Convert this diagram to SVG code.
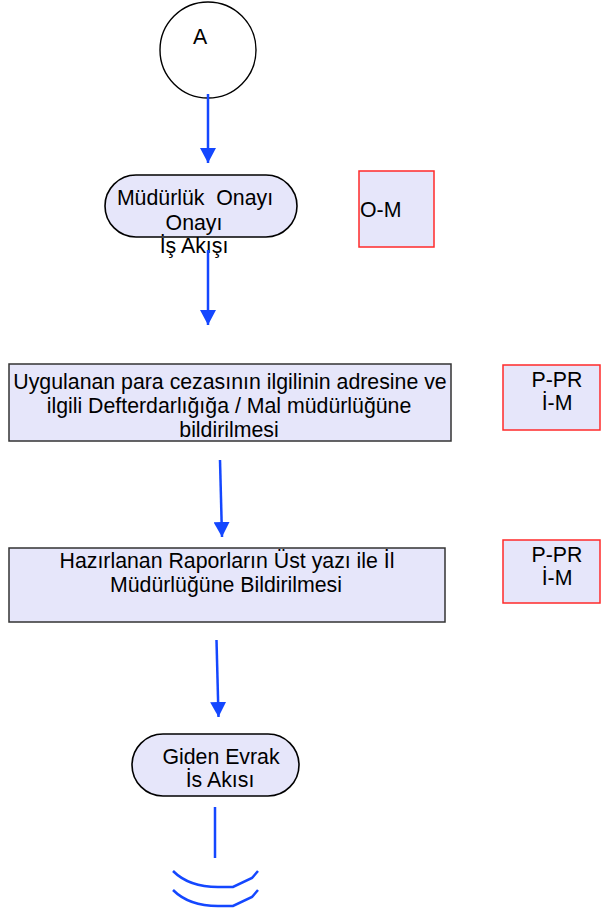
<svg xmlns="http://www.w3.org/2000/svg" width="601" height="910" viewBox="0 0 601 910">
<style>
text{font-family:"Liberation Sans",Arial,sans-serif;font-size:21.3px;fill:#000}
.c{text-anchor:middle}
.term{fill:#e6e6fa;stroke:#000;stroke-width:1.6}
.proc{fill:#e6e6fa;stroke:#333;stroke-width:1.5}
.tag{fill:#e6e6fa;stroke:#ff2a2a;stroke-width:1.5}
.conn{stroke:#1447ff;stroke-width:2.5;fill:none}
</style>
<defs>
<marker id="ah" markerWidth="16" markerHeight="16" refX="15" refY="8" orient="auto" markerUnits="userSpaceOnUse">
<path d="M0,0 L15,8 L0,16 Z" fill="#1447ff"/>
</marker>
</defs>
<g id="start">
<circle cx="208" cy="50" r="48" fill="#fff" stroke="#000" stroke-width="1.4"/>
<text x="200" y="44" class="c">A</text>
</g>
<g id="onay">
<rect class="term" x="105" y="175" width="192" height="62" rx="31"/>
<text x="195" y="205" class="c" xml:space="preserve">Müdürlük  Onayı</text>
<text x="194" y="230" class="c">Onayı</text>
<text x="194" y="253" class="c">İş Akışı</text>
</g>
<g id="tag-om">
<rect class="tag" x="359" y="171" width="75" height="76"/>
<text x="360" y="217">O-M</text>
</g>
<g id="bildirim">
<rect class="proc" x="9" y="364" width="442" height="77"/>
<text x="230" y="389" class="c">Uygulanan para cezasının ilgilinin adresine ve</text>
<text x="229" y="413" class="c">ilgili Defterdarlığığa / Mal müdürlüğüne</text>
<text x="229" y="437" class="c">bildirilmesi</text>
</g>
<g id="tag-1">
<rect class="tag" x="503" y="365" width="97" height="65"/>
<text x="557" y="387" class="c">P-PR</text>
<text x="557" y="410" class="c">İ-M</text>
</g>
<g id="rapor">
<rect class="proc" x="9" y="548" width="436" height="74"/>
<text x="227" y="568" class="c">Hazırlanan Raporların Üst yazı ile İl</text>
<text x="226" y="592" class="c">Müdürlüğüne Bildirilmesi</text>
</g>
<g id="tag-2">
<rect class="tag" x="503" y="540" width="97" height="63"/>
<text x="557" y="562" class="c">P-PR</text>
<text x="557" y="585" class="c">İ-M</text>
</g>
<g id="giden">
<rect class="term" x="132" y="734" width="167" height="62" rx="31"/>
<text x="221" y="764" class="c">Giden Evrak</text>
<text x="220" y="787" class="c">İs Akısı</text>
</g>
<g id="connectors">
<line class="conn" x1="208" y1="94" x2="208" y2="163" marker-end="url(#ah)"/>
<line class="conn" x1="208" y1="250" x2="208" y2="325" marker-end="url(#ah)"/>
<line class="conn" x1="220" y1="460" x2="222" y2="537" marker-end="url(#ah)"/>
<line class="conn" x1="216.5" y1="640" x2="218.5" y2="717" marker-end="url(#ah)"/>
<line class="conn" x1="215" y1="807" x2="215" y2="858"/>
<path class="conn" d="M173,871 C185,883 200,887 218,887 L233,887 L252,878 L258,871"/>
<path class="conn" d="M173,890 C185,902 200,906 218,906 L233,906 L252,897 L258,890"/>
</g>
</svg>
